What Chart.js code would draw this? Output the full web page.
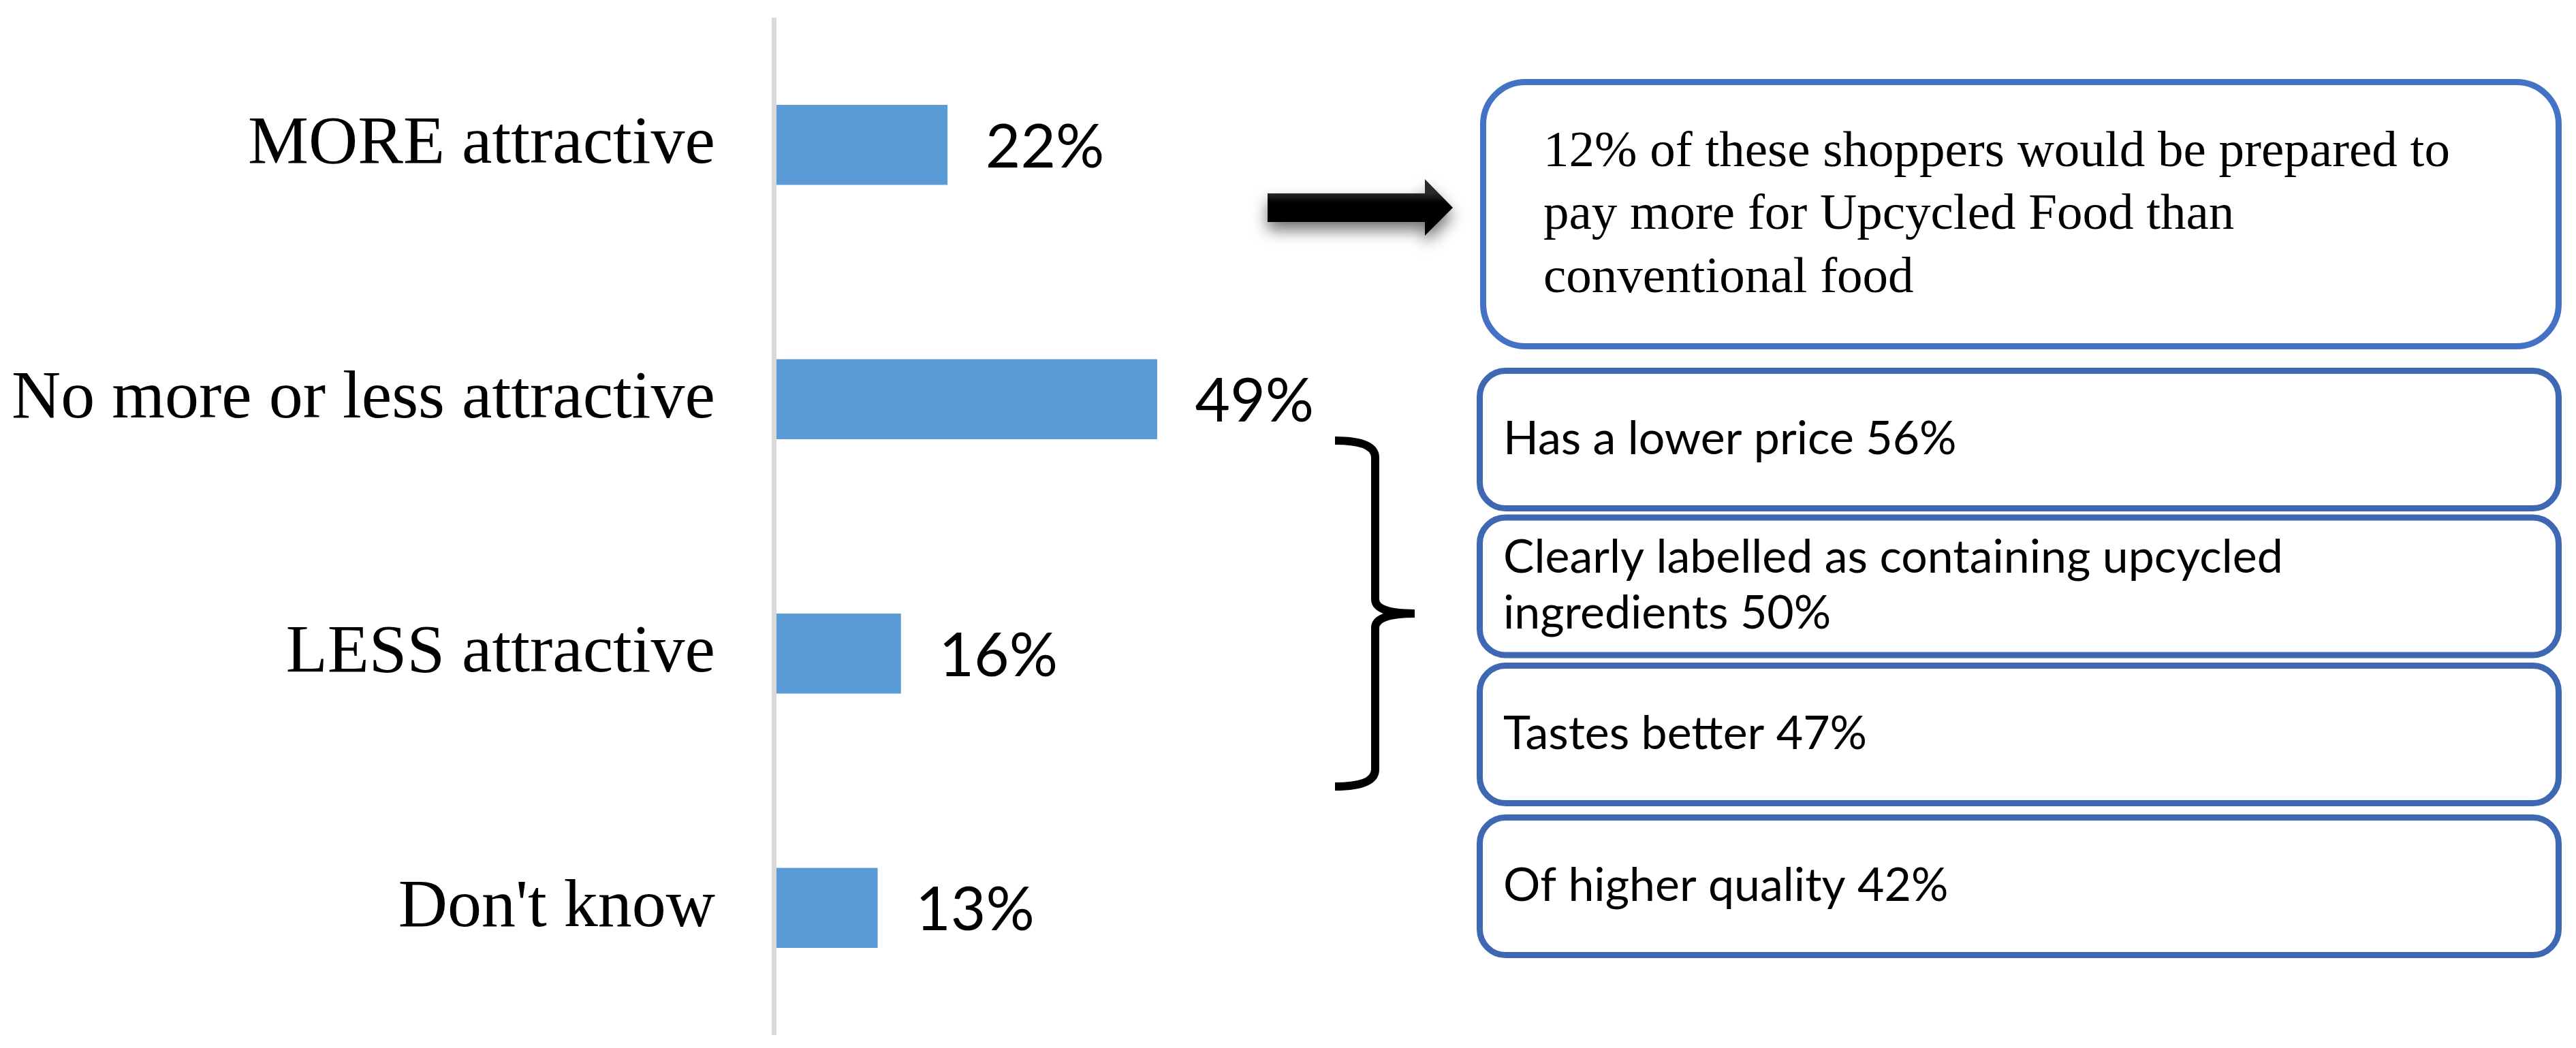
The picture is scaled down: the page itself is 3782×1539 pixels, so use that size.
<!DOCTYPE html>
<html>
<head>
<meta charset="utf-8">
<script src="https://cdn.jsdelivr.net/npm/chart.js@4/dist/chart.umd.min.js"></script>
<style>
html,body{margin:0;padding:0;background:#fff}
canvas{display:block}
</style>
</head>
<body>
<canvas id="chart" width="3782" height="1539"></canvas>
<script>
// survey answers
const categories = ["MORE attractive", "No more or less attractive", "LESS attractive", "Don't know"]
const shares = [22, 49, 16, 13]

// follow-up for the "MORE attractive" group
const premiumShare = 12

// reasons that would make upcycled food more attractive
const reasons = ["Has a lower price", "Clearly labelled as containing upcycled ingredients", "Tastes better", "Of higher quality"]
const reasonShares = [56, 50, 47, 42]

const serif = "'Liberation Serif', 'Times New Roman', serif"
const sans = "Lato, 'Open Sans', sans-serif"

function wrapText(ctx, text, maxWidth){
  let words = text.split(" ")
  let lines = []
  let line = ""
  words.forEach(w=>{
    let test = line ? line + " " + w : w
    if(ctx.measureText(test).width > maxWidth && line){
      lines.push(line)
      line = w
    } else {
      line = test
    }
  })
  if(line) lines.push(line)
  return lines
}

function roundBox(ctx, x, y, w, h, r, color){
  ctx.beginPath()
  ctx.roundRect(x, y, w, h, r)
  ctx.lineWidth = 9
  ctx.strokeStyle = color
  ctx.stroke()
}

// grey vertical axis line left of the bars
const axisLine = {
  id: "axisLine",
  beforeDatasetsDraw(chart){
    const {ctx, chartArea} = chart
    ctx.save()
    ctx.strokeStyle = "#d9d9d9"
    ctx.lineWidth = 7
    ctx.beginPath()
    ctx.moveTo(chartArea.left - 3.5, chartArea.top)
    ctx.lineTo(chartArea.left - 3.5, chartArea.bottom)
    ctx.stroke()
    ctx.restore()
  }
}

// percentage next to each bar
const valueLabels = {
  id: "valueLabels",
  afterDatasetsDraw(chart){
    const ctx = chart.ctx
    const meta = chart.getDatasetMeta(0)
    ctx.save()
    ctx.font = "89px " + sans
    ctx.fillStyle = "#000"
    ctx.textBaseline = "alphabetic"
    meta.data.forEach((bar, i)=>{
      ctx.fillText(shares[i] + "%", bar.x + 56, bar.y + 33)
    })
    ctx.restore()
  }
}

// arrow, brace and the text boxes on the right
const sideNotes = {
  id: "sideNotes",
  afterDraw(chart){
    const ctx = chart.ctx
    ctx.save()

    // arrow with soft shadow
    ctx.save()
    ctx.shadowColor = "rgba(0,0,0,0.55)"
    ctx.shadowBlur = 22
    ctx.shadowOffsetY = 12
    let g = ctx.createLinearGradient(0, 283, 0, 326)
    g.addColorStop(0, "#2a2a2a")
    g.addColorStop(0.35, "#000")
    g.addColorStop(1, "#000")
    ctx.fillStyle = g
    ctx.beginPath()
    ctx.moveTo(1861, 284)
    ctx.lineTo(2092, 284)
    ctx.lineTo(2092, 263)
    ctx.lineTo(2133, 305)
    ctx.lineTo(2092, 346)
    ctx.lineTo(2092, 326)
    ctx.lineTo(1861, 326)
    ctx.closePath()
    ctx.fill()
    ctx.restore()

    // top box
    roundBox(ctx, 2177.5, 120.5, 1579, 388, 62, "#4472c4")
    ctx.font = "75px " + serif
    ctx.fillStyle = "#000"
    let text1 = premiumShare + "% of these shoppers would be prepared to pay more for Upcycled Food than conventional food"
    let lines1 = wrapText(ctx, text1, 1380)
    let lh1 = 92.5
    let y1 = 311 - (lines1.length - 1) * lh1 / 2 + 25
    lines1.forEach((l, i)=> ctx.fillText(l, 2266, y1 + i * lh1))

    // brace
    ctx.lineWidth = 12
    ctx.strokeStyle = "#000"
    ctx.lineCap = "butt"
    ctx.beginPath()
    ctx.moveTo(1960, 647)
    ctx.quadraticCurveTo(2019, 647, 2019, 672)
    ctx.lineTo(2019, 880)
    ctx.quadraticCurveTo(2019, 901, 2077, 901)
    ctx.moveTo(2077, 901)
    ctx.quadraticCurveTo(2019, 901, 2019, 922)
    ctx.lineTo(2019, 1130)
    ctx.quadraticCurveTo(2019, 1155, 1960, 1155)
    ctx.stroke()

    // reason boxes
    const tops = [544.5, 760, 977.5, 1200.5]
    const h = 202
    ctx.font = "68px " + sans
    reasons.forEach((r, i)=>{
      roundBox(ctx, 2172.5, tops[i], 1584, h, 38, "#3e68b2")
      let lines = wrapText(ctx, r + " " + reasonShares[i] + "%", 1340)
      let lh = 82
      let cy = tops[i] + h / 2
      let y = cy - (lines.length - 1) * lh / 2 + 21
      ctx.fillStyle = "#000"
      lines.forEach((l, j)=> ctx.fillText(l, 2207, y + j * lh))
    })

    ctx.restore()
  }
}

new Chart(document.getElementById("chart"), {
  type: "bar",
  data: {
    labels: categories,
    datasets: [{
      data: shares,
      backgroundColor: "#5b9bd5",
      borderWidth: 0,
      barThickness: 117
    }]
  },
  options: {
    indexAxis: "y",
    responsive: false,
    devicePixelRatio: 1,
    animation: false,
    layout: {padding: {left: 0, right: 1502, top: 26, bottom: 19}},
    plugins: {legend: {display: false}, tooltip: {enabled: false}},
    scales: {
      x: {display: false, min: 0, max: 100},
      y: {
        grid: {display: false},
        border: {display: false},
        ticks: {
          color: "#000",
          padding: 82,
          font: {family: serif, size: 100}
        },
        afterFit(scale){
          scale.width = 1140
          scale.paddingTop = 0
          scale.paddingBottom = 0
        }
      }
    }
  },
  plugins: [axisLine, valueLabels, sideNotes]
})
</script>
</body>
</html>
